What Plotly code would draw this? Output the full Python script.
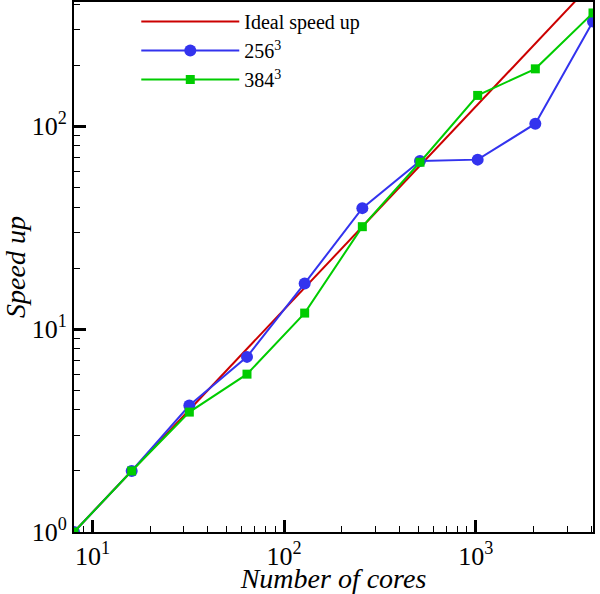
import plotly.graph_objects as go
import math

cores = [8, 16, 32, 64, 128, 256, 512, 1024, 2048, 4096]
ideal = [1, 2, 4, 8, 16, 32, 64, 128, 256, 512]
s256 = [1, 2, 4.2, 7.3, 16.8, 39.5, 67.5, 68.5, 103, 329]
s384 = [1, 2, 3.9, 6.0, 12.0, 32.0, 66.5, 142, 192, 362]

x_tickvals = [10, 100, 1000]
x_ticktext = ["10<sup>1</sup>", "10<sup>2</sup>", "10<sup>3</sup>"]
y_tickvals = [1, 10, 100]
y_ticktext = ["10<sup>0</sup>", "10<sup>1</sup>", "10<sup>2</sup>"]
x_minor = [m * 10 ** d for d in range(0, 4) for m in range(2, 10)]
y_minor = [m * 10 ** d for d in range(0, 3) for m in range(2, 10)]

font = "Liberation Serif"

fig = go.Figure()
fig.add_trace(go.Scatter(x=cores, y=ideal, mode="lines", name="Ideal speed up",
                         line=dict(color="#cc0000", width=2)))
fig.add_trace(go.Scatter(x=cores, y=s256, mode="lines+markers", name="256<sup>3</sup>",
                         line=dict(color="#3333ee", width=2),
                         marker=dict(symbol="circle", size=12, color="#3333ee")))
fig.add_trace(go.Scatter(x=cores, y=s384, mode="lines+markers", name="384<sup>3</sup>",
                         line=dict(color="#00cc00", width=2),
                         marker=dict(symbol="square", size=9, color="#00cc00")))

axis_common = dict(
    showline=True, linecolor="black", linewidth=2, mirror=True,
    ticks="inside", ticklen=12, tickwidth=2.5, tickcolor="black",
    showgrid=False, zeroline=False, automargin=False,
    tickfont=dict(family=font, size=26, color="black"),
)

fig.update_xaxes(type="log", range=[math.log10(8), math.log10(4096)],
                 tickvals=x_tickvals, ticktext=x_ticktext,
                 minor=dict(tickvals=x_minor, ticks="inside", ticklen=6, tickwidth=1,
                            tickcolor="black", showgrid=False),
                 title=dict(text="<i>Number of cores</i>", font=dict(family=font, size=28, color="black"), standoff=10),
                 **axis_common)
fig.update_yaxes(type="log", range=[0, math.log10(410)],
                 tickvals=y_tickvals, ticktext=y_ticktext,
                 minor=dict(tickvals=y_minor, ticks="inside", ticklen=6, tickwidth=1,
                            tickcolor="black", showgrid=False),
                 title=dict(text="<i>Speed up</i>", font=dict(family=font, size=28, color="black"), standoff=12),
                 **axis_common)

fig.update_layout(
    width=600, height=594,
    margin=dict(l=74, r=7, t=2, b=62),
    paper_bgcolor="white", plot_bgcolor="white",
    showlegend=True,
    legend=dict(x=0.12, y=1.0, xanchor="left", yanchor="top",
                bgcolor="rgba(0,0,0,0)", font=dict(family=font, size=20, color="black"),
                itemwidth=98, tracegroupgap=0),
)

fig.write_html("out.html", config={"displayModeBar": False},
               post_script="document.body.style.margin='0';")
